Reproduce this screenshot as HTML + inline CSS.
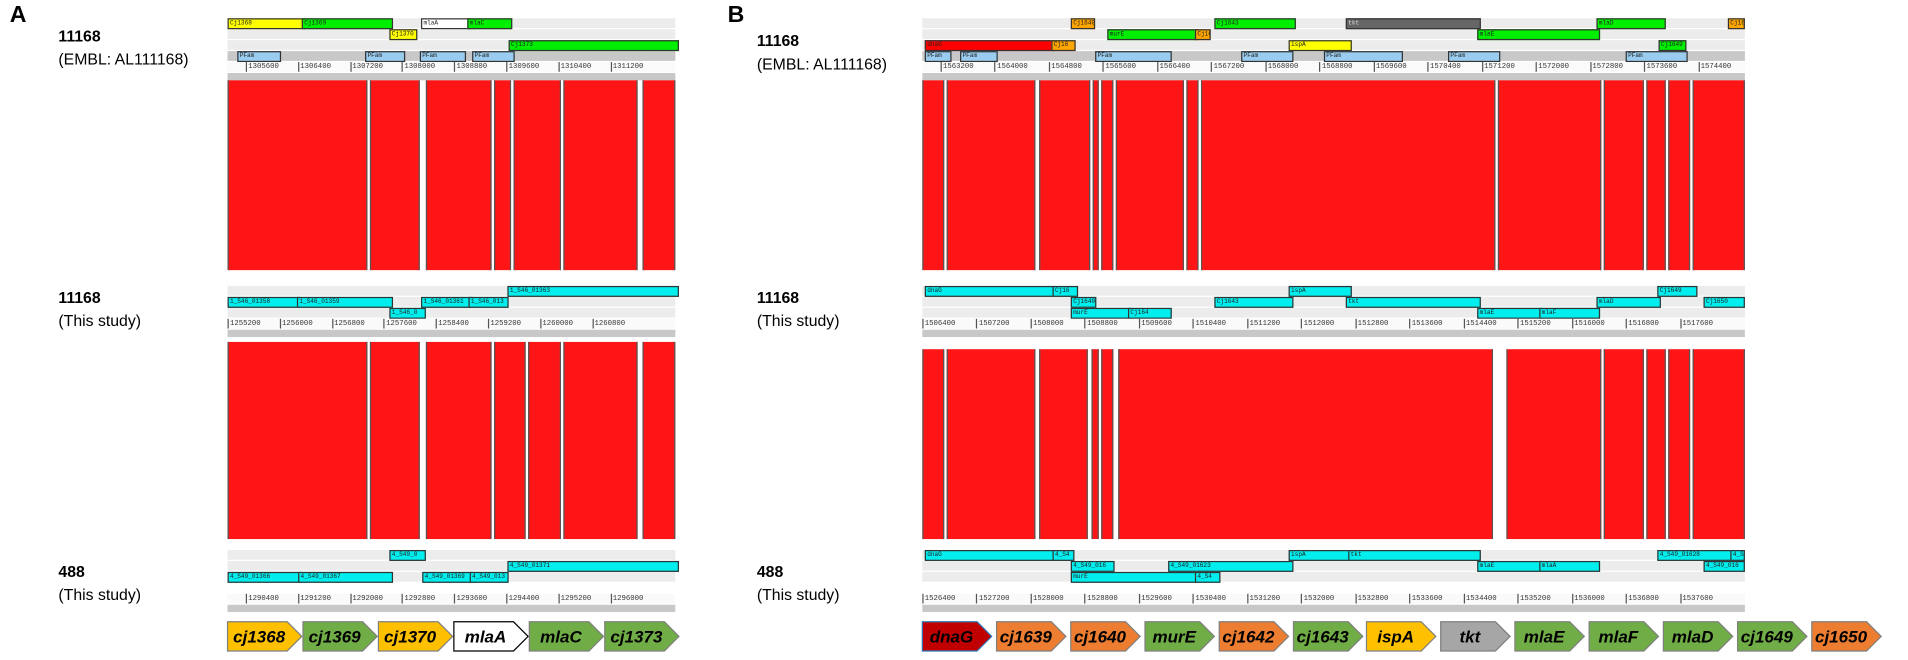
<!DOCTYPE html>
<html><head><meta charset="utf-8">
<style>
html,body{margin:0;padding:0;background:#fff;width:1908px;height:660px;overflow:hidden;}
#wrap{position:absolute;left:0;top:0;width:1568px;height:542px;transform:scale(1.2168);transform-origin:0 0;font-family:"Liberation Sans",sans-serif;}
.abs{position:absolute;box-sizing:border-box;}
.lbl{position:absolute;font-family:"Liberation Sans",sans-serif;font-size:13px;color:#000;white-space:nowrap;}
.b{font-weight:bold;}
.panel{position:absolute;font-weight:bold;font-size:19px;}
.tick{position:absolute;font-family:"Liberation Mono",monospace;font-size:6px;color:#333;border-left:1px solid #555;padding-left:1px;height:8px;line-height:8px;}
.feat{position:absolute;height:7px;font-family:"Liberation Mono",monospace;font-size:5px;line-height:7px;overflow:hidden;border:1px solid #333;color:#222;padding-left:1px;}
.garrow{position:absolute;height:24px;}
</style></head><body>
<div id="wrap">
<div class="panel" style="left:8px;top:2px">A</div>
<div class="panel" style="left:598px;top:2px">B</div>

<div class="lbl b" style="left:48px;top:22px">11168</div>
<div class="lbl" style="left:48px;top:41px">(EMBL: AL111168)</div>
<div class="lbl b" style="left:48px;top:237px">11168</div>
<div class="lbl" style="left:48px;top:256px">(This study)</div>
<div class="lbl b" style="left:48px;top:462px">488</div>
<div class="lbl" style="left:48px;top:481px">(This study)</div>

<div class="lbl b" style="left:622px;top:26px">11168</div>
<div class="lbl" style="left:622px;top:45px">(EMBL: AL111168)</div>
<div class="lbl b" style="left:622px;top:237px">11168</div>
<div class="lbl" style="left:622px;top:256px">(This study)</div>
<div class="lbl b" style="left:622px;top:462px">488</div>
<div class="lbl" style="left:622px;top:481px">(This study)</div>
</div>
<script>
// Panel geometry (perceived units)
const A = {x0:187, x1:555};
const B = {x0:758, x1:1434};
// Red homology blocks: [start,end] in px along track
const aTopBlocks = [[187,302],[304,345],[350,404],[406,420],[422,461],[463,524],[528,555]];
const aBotBlocks = [[187,302],[304,345],[350,404],[406,432],[434,461],[463,524],[528,555]];
const bTopBlocks = [[758,776],[778,851],[854,896],[898,903],[905,915],[917,973],[975,985],[987,1229],[1231,1316],[1318,1351],[1353,1369],[1371,1389],[1391,1434]];
const bBotBlocks = [[758,776],[778,851],[854,894],[897,903],[905,915],[919,1227],[1238,1316],[1318,1351],[1353,1369],[1371,1389],[1391,1434]];
// Rulers tick labels
const aTicks1 = ["1305600","1306400","1307200","1308000","1308800","1309600","1310400","1311200"];
const aTicks2 = ["1255200","1256000","1256800","1257600","1258400","1259200","1260000","1260800"];
const aTicks3 = ["1290400","1291200","1292000","1292800","1293600","1294400","1295200","1296000"];
const bTicks1 = ["1563200","1564000","1564800","1565600","1566400","1567200","1568000","1568800","1569600","1570400","1571200","1572000","1572800","1573600","1574400"];
const bTicks2 = ["1506400","1507200","1508000","1508800","1509600","1510400","1511200","1512000","1512800","1513600","1514400","1515200","1516000","1516800","1517600"];
const bTicks3 = ["1526400","1527200","1528000","1528800","1529600","1530400","1531200","1532000","1532800","1533600","1534400","1535200","1536000","1536800","1537600"];
// Bottom gene legend arrows
const aGenes = ["cj1368","cj1369","cj1370","mlaA","mlaC","cj1373"];
const aGeneColors = ["#ffc000","#70ad47","#ffc000","#ffffff","#70ad47","#70ad47"];
const bGenes = ["dnaG","cj1639","cj1640","murE","cj1642","cj1643","ispA","tkt","mlaE","mlaF","mlaD","cj1649","cj1650"];
const bGeneColors = ["#c00000","#ed7d31","#ed7d31","#70ad47","#ed7d31","#70ad47","#ffc000","#a6a6a6","#70ad47","#70ad47","#70ad47","#70ad47","#ed7d31"];
// Feature tracks: [row, start, end, label, color]
const aFeat1 = [[0,187,248,"Cj1368","#ffff00"],[0,248,320,"Cj1369","#00ee00"],[0,346,384,"mlaA","#ffffff"],[0,384,418,"mlaC","#00ee00"],[1,320,340,"Cj1370","#ffff00"],[2,418,555,"Cj1373","#00ee00"],[3,195,228,"PFam","#99ccee"],[3,300,330,"PFam","#99ccee"],[3,345,380,"PFam","#99ccee"],[3,388,420,"PFam","#99ccee"]];
const aFeat2 = [[0,187,244,"1_S46_01358","#00eeee"],[0,244,320,"1_S46_01359","#00eeee"],[0,346,385,"1_S46_01361","#00eeee"],[0,385,415,"1_S46_013","#00eeee"],[1,320,347,"1_S46_0","#00eeee"],[-1,417,555,"1_S46_01363","#00eeee"]];
const aFeat3 = [[-1,320,347,"4_S49_0","#00eeee"],[0,417,555,"4_S49_01371","#00eeee"],[1,187,245,"4_S49_01366","#00eeee"],[1,245,320,"4_S49_01367","#00eeee"],[1,347,386,"4_S49_01369","#00eeee"],[1,386,415,"4_S49_013","#00eeee"]];
const bFeat1 = [[0,880,897,"Cj1640","#ffa500"],[0,998,1062,"Cj1643","#00ee00"],[0,1106,1214,"tkt","#666666"],[0,1312,1366,"mlaD","#00ee00"],[0,1420,1431,"Cj1650","#ffa500"],[1,910,982,"murE","#00ee00"],[1,982,992,"Cj164","#ffa500"],[1,1214,1312,"mlaE","#00ee00"],[2,760,864,"dnaG","#ff0000"],[2,864,881,"Cj16","#ffa500"],[2,1059,1108,"ispA","#ffff00"],[2,1363,1383,"Cj1649","#00ee00"],[3,760,779,"PFam","#99ccee"],[3,789,817,"PFam","#99ccee"],[3,900,960,"PFam","#99ccee"],[3,1020,1060,"PFam","#99ccee"],[3,1088,1150,"PFam","#99ccee"],[3,1190,1230,"PFam","#99ccee"],[3,1336,1384,"PFam","#99ccee"]];
const bFeat2 = [[0,760,864,"dnaG","#00eeee"],[0,865,883,"Cj16","#00eeee"],[0,1059,1108,"ispA","#00eeee"],[0,1362,1392,"Cj1649","#00eeee"],[1,880,898,"Cj1640","#00eeee"],[1,998,1060,"Cj1643","#00eeee"],[1,1106,1214,"tkt","#00eeee"],[1,1312,1362,"mlaD","#00eeee"],[1,1400,1431,"Cj1650","#00eeee"],[2,880,927,"murE","#00eeee"],[2,927,960,"Cj164","#00eeee"],[2,1214,1265,"mlaE","#00eeee"],[2,1265,1312,"mlaF","#00eeee"]];
const bFeat3 = [[0,760,864,"dnaG","#00eeee"],[0,865,880,"4_S4","#00eeee"],[0,1059,1108,"ispA","#00eeee"],[0,1108,1214,"tkt","#00eeee"],[0,1362,1422,"4_S49_01628","#00eeee"],[0,1422,1431,"4_S","#00eeee"],[1,880,913,"4_S49_016","#00eeee"],[1,960,1060,"4_S49_01623","#00eeee"],[1,1214,1265,"mlaE","#00eeee"],[1,1265,1312,"mlaA","#00eeee"],[1,1400,1431,"4_S49_016","#00eeee"],[2,880,982,"murE","#00eeee"],[2,982,1000,"4_S4","#00eeee"]];

const W = document.getElementById('wrap');
function box(x,y,w,h,bg){const d=document.createElement('div');d.className='abs';d.style.left=x+'px';d.style.top=y+'px';d.style.width=w+'px';d.style.height=h+'px';d.style.background=bg;W.appendChild(d);return d;}

function drawBlocks(arr,y0,y1,name){
  arr.forEach((b,i)=>{
    const d=box(b[0],y0,b[1]-b[0],y1-y0,'#ff1515');
    d.style.borderLeft='1px solid #555';d.style.borderRight='1px solid #555';
    
    
  });
}
function drawBands(p,y,rows,name){
  for(let r=0;r<rows;r++){
    const d=box(p.x0,y+r*9,p.x1-p.x0,8,'#ececec');
    
    
  }
}
function drawFeats(arr,y,name){
  arr.forEach(f=>{
    const d=document.createElement('div');d.className='feat';
    d.style.left=f[1]+'px';d.style.top=(y+f[0]*9)+'px';d.style.width=(f[2]-f[1])+'px';d.style.background=f[4];
    if(f[4]==='#666666')d.style.color='#ddd';
    d.textContent=f[3];
    
    
    W.appendChild(d);
  });
}
function drawRuler(p,y,ticks,name,offset){
  const d=box(p.x0,y,p.x1-p.x0,8,'#fafafa');
  
  
  const g=box(p.x0,y+9,p.x1-p.x0,6,'#c8c8c8');
  
  
  const step=(p.x1-p.x0)/(ticks.length+ (p===A?0.6:0.2));
  ticks.forEach((t,i)=>{
    const s=document.createElement('div');s.className='tick';
    s.style.left=(p.x0+offset+i*step)+'px';s.style.top=y+'px';s.textContent=t;
    
    
    W.appendChild(s);
  });
}
function drawGenes(names,colors,x0,step,w,y,name){
  names.forEach((n,i)=>{
    const x=x0+i*step;
    const s=document.createElementNS('http://www.w3.org/2000/svg','svg');
    s.setAttribute('width',w+2);s.setAttribute('height',26);
    s.style.position='absolute';s.style.left=x+'px';s.style.top=y+'px';
    const pts=`1,1 ${w-12},1 ${w},13 ${w-12},25 1,25`;
    const stroke = colors[i]==='#ffffff'?'#000':(colors[i]==='#c00000'?'#2e75b6':'#7f7f7f');
    s.innerHTML=`<polygon points="${pts}" fill="${colors[i]}" stroke="${stroke}" stroke-width="1"/><text x="${(w-8)/2}" y="18" text-anchor="middle" font-family="Liberation Sans, sans-serif" font-size="14" font-weight="bold" font-style="italic" fill="#000">${n}</text>`;
    
    
    W.appendChild(s);
  });
}
// Panel A
drawBands(A,15,4,'a-ref');
box(A.x0,42,A.x1-A.x0,8,'#c8c8c8');
drawFeats(aFeat1,15,'a-ref');
drawRuler(A,51,aTicks1,'a-ref',15);
drawBlocks(aTopBlocks,66,222,'a-top');
drawBands(A,235,3,'a-study');
drawFeats(aFeat2,244,'a-study');
drawRuler(A,262,aTicks2,'a-study',0);
drawBlocks(aBotBlocks,281,443,'a-bottom');
drawBands(A,452,3,'a-488');
drawFeats(aFeat3,461,'a-488');
drawRuler(A,488,aTicks3,'a-488',15);
drawGenes(aGenes,aGeneColors,186,62,62,510,'a');
// Panel B
drawBands(B,15,4,'b-ref');
box(B.x0,42,B.x1-B.x0,8,'#c8c8c8');
drawFeats(bFeat1,15,'b-ref');
drawRuler(B,51,bTicks1,'b-ref',15);
drawBlocks(bTopBlocks,66,222,'b-top');
drawBands(B,235,3,'b-study');
drawFeats(bFeat2,235,'b-study');
drawRuler(B,262,bTicks2,'b-study',0);
drawBlocks(bBotBlocks,287,443,'b-bottom');
drawBands(B,452,3,'b-488');
drawFeats(bFeat3,452,'b-488');
drawRuler(B,488,bTicks3,'b-488',0);
drawGenes(bGenes,bGeneColors,757,60.9,58,510,'b');
</script>
</body></html>
